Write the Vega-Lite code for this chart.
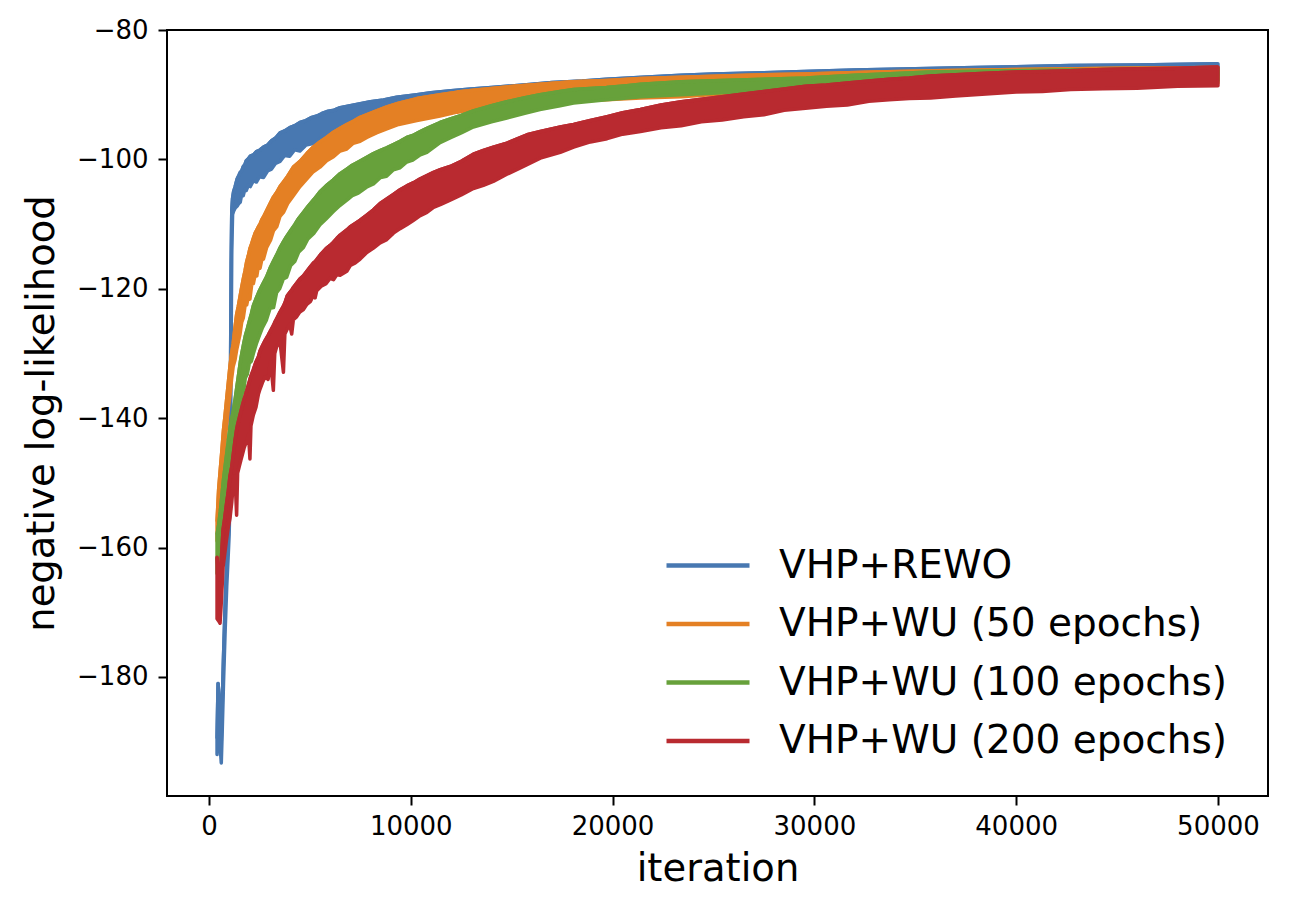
{
  "$schema": "https://vega.github.io/schema/vega-lite/v6.json",
  "width": 1101,
  "height": 766,
  "autosize": {"type": "none"},
  "padding": {"left": 167, "top": 30, "right": 30, "bottom": 117},
  "datasets": {
    "rewo": [
      {"x":400,"lo":-192,"hi":-189.5},{"x":450,"lo":-184,"hi":-181},{"x":500,"lo":-186,"hi":-183},{"x":560,"lo":-191,"hi":-188},
      {"x":610,"lo":-193.3,"hi":-190},{"x":660,"lo":-188,"hi":-184},{"x":720,"lo":-181,"hi":-177},{"x":800,"lo":-173,"hi":-169},
      {"x":880,"lo":-166,"hi":-162.5},{"x":950,"lo":-161.5,"hi":-158},{"x":1000,"lo":-158,"hi":-154.5},{"x":1040,"lo":-152,"hi":-146},
      {"x":1070,"lo":-143,"hi":-132},{"x":1100,"lo":-128,"hi":-116},{"x":1130,"lo":-114,"hi":-108},{"x":1170,"lo":-108.5,"hi":-106},
      {"x":1220,"lo":-108,"hi":-105},{"x":1300,"lo":-107.5,"hi":-104.2},{"x":1400,"lo":-107.2,"hi":-103},{"x":1480,"lo":-106.8,"hi":-102.5},
      {"x":1550,"lo":-106.6,"hi":-102},{"x":1620,"lo":-105.4,"hi":-101.8},{"x":1700,"lo":-105.6,"hi":-101.1},{"x":1780,"lo":-104.6,"hi":-100.8},
      {"x":1850,"lo":-104.8,"hi":-100.2},{"x":1950,"lo":-104,"hi":-99.9},{"x":2050,"lo":-104.2,"hi":-99.5},{"x":2200,"lo":-103.3,"hi":-99.3},
      {"x":2350,"lo":-103.5,"hi":-98.8},{"x":2500,"lo":-102.7,"hi":-98.6},{"x":2700,"lo":-102.8,"hi":-98.1},{"x":2900,"lo":-101.8,"hi":-97.8},
      {"x":3100,"lo":-101.5,"hi":-97.1},{"x":3300,"lo":-100.6,"hi":-96.7},{"x":3520,"lo":-100.3,"hi":-95.9},{"x":3750,"lo":-99.4,"hi":-95.6},
      {"x":4000,"lo":-99.5,"hi":-95.1},{"x":4250,"lo":-98.5,"hi":-94.8},{"x":4510,"lo":-98.7,"hi":-94.3},{"x":4800,"lo":-97.8,"hi":-94},
      {"x":5100,"lo":-97.6,"hi":-93.5},{"x":5350,"lo":-97.2,"hi":-93.3},{"x":5600,"lo":-96.6,"hi":-92.9},{"x":5850,"lo":-96.7,"hi":-92.6},
      {"x":6200,"lo":-95.9,"hi":-92.4},{"x":6500,"lo":-95.8,"hi":-92},{"x":7000,"lo":-95,"hi":-91.7},{"x":7500,"lo":-94.6,"hi":-91.4},
      {"x":8000,"lo":-94.1,"hi":-91.1},{"x":8650,"lo":-93.6,"hi":-90.8},{"x":9300,"lo":-93.1,"hi":-90.4},{"x":10300,"lo":-92.5,"hi":-90},
      {"x":11000,"lo":-92.2,"hi":-89.7},{"x":12000,"lo":-91.8,"hi":-89.4},{"x":13000,"lo":-91.4,"hi":-89.1},{"x":14000,"lo":-91,"hi":-88.9},
      {"x":15600,"lo":-90.6,"hi":-88.5},{"x":17000,"lo":-90.2,"hi":-88.1},{"x":18500,"lo":-89.9,"hi":-87.9},{"x":19700,"lo":-89.6,"hi":-87.6},
      {"x":21500,"lo":-89.2,"hi":-87.3},{"x":23400,"lo":-88.9,"hi":-87},{"x":25000,"lo":-88.7,"hi":-86.8},{"x":27500,"lo":-88.4,"hi":-86.6},
      {"x":29500,"lo":-88.2,"hi":-86.4},{"x":32000,"lo":-88,"hi":-86.2},{"x":35000,"lo":-87.7,"hi":-86},{"x":38000,"lo":-87.5,"hi":-85.8},
      {"x":42700,"lo":-87.3,"hi":-85.5},{"x":46000,"lo":-87.1,"hi":-85.4},{"x":50000,"lo":-86.9,"hi":-85.2}
    ],
    "wu50": [
      {"x":400,"lo":-159,"hi":-156},{"x":480,"lo":-155.5,"hi":-151},{"x":560,"lo":-151.5,"hi":-148},{"x":640,"lo":-149,"hi":-145},
      {"x":720,"lo":-146,"hi":-141.8},{"x":800,"lo":-143.5,"hi":-139.5},{"x":880,"lo":-141,"hi":-137},{"x":960,"lo":-138.5,"hi":-134.5},
      {"x":1040,"lo":-136.5,"hi":-132},{"x":1120,"lo":-134,"hi":-130},{"x":1200,"lo":-132,"hi":-128.5},{"x":1290,"lo":-131,"hi":-126},
      {"x":1370,"lo":-129.5,"hi":-124},{"x":1450,"lo":-128.3,"hi":-122.8},{"x":1540,"lo":-127,"hi":-121.2},{"x":1620,"lo":-125.2,"hi":-119.8},
      {"x":1700,"lo":-124.5,"hi":-118.5},{"x":1790,"lo":-122.6,"hi":-117.2},{"x":1870,"lo":-122.5,"hi":-115.8},{"x":1950,"lo":-121.2,"hi":-114.9},
      {"x":2030,"lo":-121.6,"hi":-113.8},{"x":2120,"lo":-119.3,"hi":-113},{"x":2200,"lo":-119.2,"hi":-112.2},{"x":2290,"lo":-117.8,"hi":-111.4},
      {"x":2370,"lo":-118,"hi":-110.9},{"x":2450,"lo":-116.5,"hi":-110.4},{"x":2530,"lo":-116.8,"hi":-110},{"x":2620,"lo":-115.5,"hi":-109.3},
      {"x":2700,"lo":-115.4,"hi":-108.9},{"x":2860,"lo":-113.6,"hi":-107.9},{"x":3050,"lo":-112.5,"hi":-106.7},{"x":3200,"lo":-111,"hi":-105.8},
      {"x":3360,"lo":-110.4,"hi":-105.1},{"x":3520,"lo":-108.8,"hi":-104.2},{"x":3690,"lo":-108.2,"hi":-103.5},{"x":3900,"lo":-106.8,"hi":-102.6},
      {"x":4180,"lo":-105.6,"hi":-101.2},{"x":4510,"lo":-104.2,"hi":-100.3},{"x":4850,"lo":-103,"hi":-99.1},{"x":5170,"lo":-101.9,"hi":-98.1},
      {"x":5500,"lo":-101.2,"hi":-97.3},{"x":5830,"lo":-100.2,"hi":-96.6},{"x":6170,"lo":-99.6,"hi":-95.8},{"x":6500,"lo":-98.7,"hi":-95.2},
      {"x":6830,"lo":-98.4,"hi":-94.6},{"x":7150,"lo":-97.5,"hi":-94.1},{"x":7490,"lo":-97.2,"hi":-93.5},{"x":7820,"lo":-96.6,"hi":-93.1},
      {"x":8300,"lo":-95.9,"hi":-92.5},{"x":8810,"lo":-95.3,"hi":-91.9},{"x":9400,"lo":-94.6,"hi":-91.3},{"x":10300,"lo":-94,"hi":-90.6},
      {"x":11450,"lo":-93.3,"hi":-90},{"x":12300,"lo":-92.7,"hi":-89.6},{"x":13100,"lo":-92.3,"hi":-89.3},{"x":14760,"lo":-91.8,"hi":-88.8},
      {"x":16400,"lo":-91.3,"hi":-88.4},{"x":18000,"lo":-91,"hi":-88},{"x":19700,"lo":-90.8,"hi":-87.8},{"x":21400,"lo":-90.5,"hi":-87.5},
      {"x":23400,"lo":-90.3,"hi":-87.3},{"x":25400,"lo":-89.9,"hi":-87.1},{"x":27500,"lo":-89.6,"hi":-86.9},{"x":29500,"lo":-89.3,"hi":-86.8},
      {"x":33000,"lo":-89,"hi":-86.5},{"x":36000,"lo":-88.7,"hi":-86.3},{"x":40000,"lo":-88.5,"hi":-86.1},{"x":45000,"lo":-88.3,"hi":-85.9},
      {"x":50000,"lo":-88.2,"hi":-85.8}
    ],
    "wu100": [
      {"x":400,"lo":-164,"hi":-158},{"x":480,"lo":-161,"hi":-156.5},{"x":560,"lo":-158.5,"hi":-154.5},{"x":640,"lo":-156.5,"hi":-152},
      {"x":720,"lo":-155,"hi":-149.5},{"x":800,"lo":-154,"hi":-147.5},{"x":900,"lo":-153,"hi":-145},{"x":1000,"lo":-152.5,"hi":-142.5},
      {"x":1100,"lo":-152,"hi":-140.5},{"x":1200,"lo":-151.5,"hi":-139},{"x":1300,"lo":-146,"hi":-137},{"x":1400,"lo":-142.8,"hi":-134.8},
      {"x":1480,"lo":-139.5,"hi":-133},{"x":1560,"lo":-138.2,"hi":-131.2},{"x":1640,"lo":-136.3,"hi":-129.8},{"x":1720,"lo":-135.8,"hi":-128.5},
      {"x":1800,"lo":-133.8,"hi":-127.3},{"x":1900,"lo":-133.2,"hi":-126.2},{"x":2000,"lo":-131.5,"hi":-125},{"x":2100,"lo":-131.2,"hi":-123.9},
      {"x":2200,"lo":-130,"hi":-122.6},{"x":2350,"lo":-128.5,"hi":-121.4},{"x":2500,"lo":-127.2,"hi":-120.3},{"x":2650,"lo":-126,"hi":-119.4},
      {"x":2850,"lo":-124.8,"hi":-118.2},{"x":3030,"lo":-123,"hi":-116.8},{"x":3200,"lo":-122.9,"hi":-115.7},{"x":3350,"lo":-120.6,"hi":-114.8},
      {"x":3500,"lo":-120,"hi":-113.8},{"x":3680,"lo":-118.5,"hi":-112.8},{"x":3850,"lo":-118.2,"hi":-111.9},{"x":4050,"lo":-116.4,"hi":-111},
      {"x":4250,"lo":-115.8,"hi":-110.1},{"x":4450,"lo":-114.3,"hi":-109.1},{"x":4680,"lo":-113.6,"hi":-108.2},{"x":4900,"lo":-112.3,"hi":-107.3},
      {"x":5200,"lo":-111.4,"hi":-106.2},{"x":5500,"lo":-110.1,"hi":-105},{"x":5800,"lo":-109.2,"hi":-104.1},{"x":6150,"lo":-108.1,"hi":-103.2},
      {"x":6500,"lo":-107.1,"hi":-102.2},{"x":6830,"lo":-106.3,"hi":-101.5},{"x":7100,"lo":-105.6,"hi":-100.9},{"x":7400,"lo":-105.2,"hi":-100.4},
      {"x":7800,"lo":-104.3,"hi":-99.7},{"x":8150,"lo":-103.8,"hi":-99.1},{"x":8500,"lo":-102.8,"hi":-98.6},{"x":8800,"lo":-102.6,"hi":-98.2},
      {"x":9140,"lo":-101.6,"hi":-97.7},{"x":9470,"lo":-101.3,"hi":-97.2},{"x":9800,"lo":-100.4,"hi":-96.6},{"x":10100,"lo":-100.1,"hi":-96.3},
      {"x":10470,"lo":-99.3,"hi":-95.7},{"x":10800,"lo":-98.9,"hi":-95.2},{"x":11450,"lo":-97.4,"hi":-94.3},{"x":12000,"lo":-96.6,"hi":-93.7},
      {"x":12500,"lo":-95.9,"hi":-93.2},{"x":13100,"lo":-95,"hi":-92.5},{"x":14000,"lo":-94.2,"hi":-91.7},{"x":14760,"lo":-93.6,"hi":-91.1},
      {"x":15600,"lo":-92.9,"hi":-90.5},{"x":16400,"lo":-92.3,"hi":-90},{"x":17400,"lo":-91.7,"hi":-89.5},{"x":18070,"lo":-91.3,"hi":-89.2},
      {"x":19700,"lo":-90.8,"hi":-88.9},{"x":20700,"lo":-90.5,"hi":-88.6},{"x":21400,"lo":-90.3,"hi":-88.4},{"x":23400,"lo":-90,"hi":-88},
      {"x":25400,"lo":-89.7,"hi":-87.8},{"x":27500,"lo":-89.4,"hi":-87.6},{"x":29600,"lo":-89.1,"hi":-87.4},{"x":32000,"lo":-88.8,"hi":-87},
      {"x":35800,"lo":-88.4,"hi":-86.5},{"x":40000,"lo":-88.2,"hi":-86.3},{"x":45000,"lo":-88,"hi":-86.1},{"x":50000,"lo":-87.8,"hi":-86}
    ],
    "wu200": [
      {"x":400,"lo":-171,"hi":-161.5},{"x":470,"lo":-171.3,"hi":-164},{"x":550,"lo":-171.7,"hi":-165},{"x":620,"lo":-168,"hi":-161.5},
      {"x":700,"lo":-163,"hi":-157.2},{"x":780,"lo":-161,"hi":-155.5},{"x":860,"lo":-159,"hi":-153.5},{"x":950,"lo":-157,"hi":-151.5},
      {"x":1040,"lo":-155.5,"hi":-149},{"x":1130,"lo":-153,"hi":-147.5},{"x":1210,"lo":-150,"hi":-145.5},{"x":1290,"lo":-149,"hi":-143.5},
      {"x":1370,"lo":-155,"hi":-141.8},{"x":1420,"lo":-148.5,"hi":-141},{"x":1500,"lo":-147.5,"hi":-140},{"x":1580,"lo":-146.5,"hi":-139},
      {"x":1660,"lo":-145.6,"hi":-138},{"x":1750,"lo":-144.5,"hi":-137},{"x":1870,"lo":-143.5,"hi":-135.8},{"x":1960,"lo":-142.5,"hi":-134.8},
      {"x":2030,"lo":-146.3,"hi":-134},{"x":2080,"lo":-141.2,"hi":-133.5},{"x":2200,"lo":-139.5,"hi":-132.5},{"x":2330,"lo":-138.3,"hi":-131.3},
      {"x":2450,"lo":-136.3,"hi":-130.5},{"x":2530,"lo":-135.5,"hi":-129.6},{"x":2650,"lo":-134.5,"hi":-128.8},{"x":2780,"lo":-133.6,"hi":-128},
      {"x":2930,"lo":-134,"hi":-127.2},{"x":3050,"lo":-131.3,"hi":-126.5},{"x":3190,"lo":-135.7,"hi":-125.7},{"x":3260,"lo":-130,"hi":-125.2},
      {"x":3360,"lo":-128.9,"hi":-124.6},{"x":3520,"lo":-128.2,"hi":-123.6},{"x":3690,"lo":-132.9,"hi":-122.7},{"x":3760,"lo":-127,"hi":-122.2},
      {"x":3880,"lo":-126.2,"hi":-121.1},{"x":4000,"lo":-125.5,"hi":-120.6},{"x":4100,"lo":-127,"hi":-120.2},{"x":4180,"lo":-124.8,"hi":-119.8},
      {"x":4350,"lo":-124.3,"hi":-119.1},{"x":4500,"lo":-123.6,"hi":-118.5},{"x":4680,"lo":-123.2,"hi":-118},{"x":4850,"lo":-122.4,"hi":-117.3},
      {"x":5020,"lo":-122,"hi":-116.6},{"x":5180,"lo":-121,"hi":-116},{"x":5260,"lo":-121.4,"hi":-115.8},{"x":5340,"lo":-120.3,"hi":-115.5},
      {"x":5560,"lo":-119.6,"hi":-114.6},{"x":5800,"lo":-119.2,"hi":-113.8},{"x":6000,"lo":-118.4,"hi":-113.3},{"x":6170,"lo":-118.6,"hi":-112.8},
      {"x":6340,"lo":-117.8,"hi":-112.2},{"x":6500,"lo":-117.9,"hi":-111.7},{"x":6830,"lo":-117.3,"hi":-110.9},{"x":7000,"lo":-116.4,"hi":-110.4},
      {"x":7250,"lo":-116,"hi":-109.9},{"x":7490,"lo":-115.4,"hi":-109.4},{"x":7820,"lo":-114.4,"hi":-108.6},{"x":8150,"lo":-113.7,"hi":-107.8},
      {"x":8480,"lo":-112.9,"hi":-106.8},{"x":8810,"lo":-112.4,"hi":-106.1},{"x":9140,"lo":-111.4,"hi":-105.4},{"x":9470,"lo":-110.7,"hi":-104.7},
      {"x":9800,"lo":-110.1,"hi":-104.1},{"x":10140,"lo":-109.4,"hi":-103.6},{"x":10470,"lo":-108.7,"hi":-103},{"x":10800,"lo":-108.2,"hi":-102.5},
      {"x":11130,"lo":-107.4,"hi":-102},{"x":11460,"lo":-107,"hi":-101.6},{"x":11950,"lo":-106.3,"hi":-101.1},{"x":12500,"lo":-105.5,"hi":-100.3},
      {"x":13100,"lo":-104.5,"hi":-99.2},{"x":13600,"lo":-104,"hi":-98.6},{"x":14090,"lo":-103.4,"hi":-98.1},{"x":14760,"lo":-102.3,"hi":-97.5},
      {"x":15300,"lo":-101.5,"hi":-96.8},{"x":15760,"lo":-100.8,"hi":-96.2},{"x":16420,"lo":-99.8,"hi":-95.7},{"x":17410,"lo":-98.9,"hi":-95},
      {"x":18070,"lo":-98.1,"hi":-94.6},{"x":18900,"lo":-97.3,"hi":-94},{"x":19730,"lo":-96.8,"hi":-93.4},{"x":20500,"lo":-96.1,"hi":-92.8},
      {"x":21380,"lo":-95.7,"hi":-92.3},{"x":22400,"lo":-95.1,"hi":-91.6},{"x":23400,"lo":-94.8,"hi":-91.1},{"x":24400,"lo":-94.2,"hi":-90.7},
      {"x":25430,"lo":-93.9,"hi":-90.3},{"x":26500,"lo":-93.4,"hi":-89.9},{"x":27500,"lo":-93.1,"hi":-89.5},{"x":28500,"lo":-92.4,"hi":-89.1},
      {"x":29560,"lo":-92.1,"hi":-88.7},{"x":30600,"lo":-91.8,"hi":-88.5},{"x":31630,"lo":-91.6,"hi":-88.2},{"x":32700,"lo":-91,"hi":-87.9},
      {"x":33700,"lo":-90.8,"hi":-87.6},{"x":34700,"lo":-90.6,"hi":-87.4},{"x":35760,"lo":-90.5,"hi":-87.1},{"x":37000,"lo":-90.2,"hi":-86.9},
      {"x":38500,"lo":-89.9,"hi":-86.7},{"x":40000,"lo":-89.6,"hi":-86.5},{"x":41300,"lo":-89.5,"hi":-86.4},{"x":42700,"lo":-89.2,"hi":-86.3},
      {"x":44300,"lo":-89.1,"hi":-86.1},{"x":46000,"lo":-89,"hi":-86},{"x":48000,"lo":-88.7,"hi":-85.9},{"x":50000,"lo":-88.6,"hi":-85.7}
    ]
  },
  "encoding": {
    "x": {
      "field": "x",
      "type": "quantitative",
      "title": "iteration",
      "scale": {"domain": [-2080, 52480], "nice": false, "zero": false},
      "axis": {"values": [0, 10000, 20000, 30000, 40000, 50000], "format": "d", "labelPadding": 8, "titlePadding": 11, "labelFlush": false}
    }
  },
  "layer": [
    {
      "data": {"name": "rewo"},
      "mark": {"type": "area", "color": "#4878b1", "stroke": "#4878b1", "strokeWidth": 3.5, "strokeJoin": "round"},
      "encoding": {
        "y": {
          "field": "lo",
          "type": "quantitative",
          "title": "negative log-likelihood",
          "scale": {"domain": [-198.4, -80], "nice": false, "zero": false},
          "axis": {"values": [-180, -160, -140, -120, -100, -80], "format": "d", "labelPadding": 10, "titlePadding": 15}
        },
        "y2": {"field": "hi"}
      }
    },
    {
      "data": {"name": "rewo"},
      "mark": {"type": "line", "strokeWidth": 3.5, "strokeJoin": "round"},
      "encoding": {
        "y": {"field": "hi", "type": "quantitative", "title": "negative log-likelihood"},
        "color": {
          "datum": "VHP+REWO",
          "scale": {
            "domain": ["VHP+REWO", "VHP+WU (50 epochs)", "VHP+WU (100 epochs)", "VHP+WU (200 epochs)"],
            "range": ["#4878b1", "#e48024", "#67a13b", "#b92a30"]
          },
          "legend": {"title": null, "orient": "none", "legendX": 497, "legendY": 516}
        }
      }
    },
    {
      "data": {"name": "wu50"},
      "mark": {"type": "area", "color": "#e48024", "stroke": "#e48024", "strokeWidth": 3.5, "strokeJoin": "round"},
      "encoding": {
        "y": {"field": "lo", "type": "quantitative", "title": "negative log-likelihood"},
        "y2": {"field": "hi"}
      }
    },
    {
      "data": {"name": "wu50"},
      "mark": {"type": "line", "strokeWidth": 3.5, "strokeJoin": "round"},
      "encoding": {
        "y": {"field": "hi", "type": "quantitative", "title": "negative log-likelihood"},
        "color": {"datum": "VHP+WU (50 epochs)"}
      }
    },
    {
      "data": {"name": "wu100"},
      "mark": {"type": "area", "color": "#67a13b", "stroke": "#67a13b", "strokeWidth": 3.5, "strokeJoin": "round"},
      "encoding": {
        "y": {"field": "lo", "type": "quantitative", "title": "negative log-likelihood"},
        "y2": {"field": "hi"}
      }
    },
    {
      "data": {"name": "wu100"},
      "mark": {"type": "line", "strokeWidth": 3.5, "strokeJoin": "round"},
      "encoding": {
        "y": {"field": "hi", "type": "quantitative", "title": "negative log-likelihood"},
        "color": {"datum": "VHP+WU (100 epochs)"}
      }
    },
    {
      "data": {"name": "wu200"},
      "mark": {"type": "area", "color": "#b92a30", "stroke": "#b92a30", "strokeWidth": 3.5, "strokeJoin": "round"},
      "encoding": {
        "y": {"field": "lo", "type": "quantitative", "title": "negative log-likelihood"},
        "y2": {"field": "hi"}
      }
    },
    {
      "data": {"name": "wu200"},
      "mark": {"type": "line", "strokeWidth": 3.5, "strokeJoin": "round"},
      "encoding": {
        "y": {"field": "hi", "type": "quantitative", "title": "negative log-likelihood"},
        "color": {"datum": "VHP+WU (200 epochs)"}
      }
    }
  ],
  "config": {
    "background": "#ffffff",
    "view": {"stroke": "#000000", "strokeWidth": 2},
    "axis": {
      "domain": false,
      "grid": false,
      "labelFont": "DejaVu Sans",
      "labelFontSize": 26,
      "labelColor": "#000000",
      "tickColor": "#000000",
      "tickWidth": 2,
      "tickSize": 9,
      "titleFont": "DejaVu Sans",
      "titleFontSize": 38.5,
      "titleFontWeight": "normal",
      "titleColor": "#000000"
    },
    "legend": {
      "symbolType": "stroke",
      "symbolSize": 6889,
      "symbolStrokeWidth": 4.3,
      "labelFont": "DejaVu Sans",
      "labelFontSize": 39,
      "labelColor": "#000000",
      "labelOffset": 27,
      "labelLimit": 0,
      "rowPadding": 18.5,
      "clipHeight": 39,
      "padding": 0
    }
  }
}
